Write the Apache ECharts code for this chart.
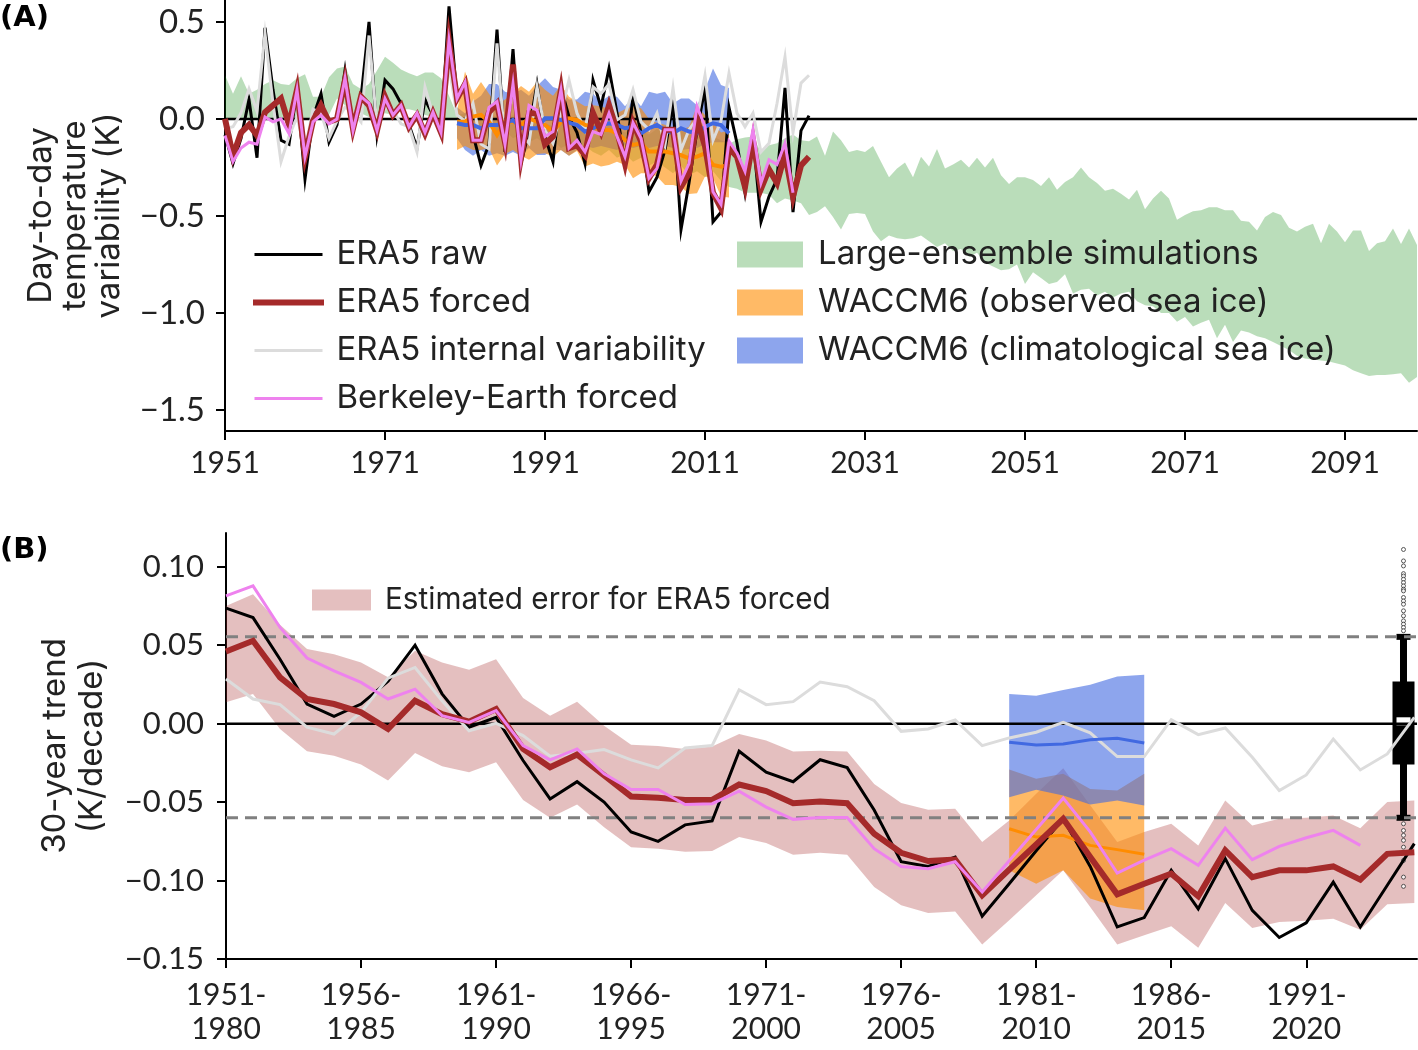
<!DOCTYPE html>
<html>
<head>
<meta charset="utf-8">
<title>Day-to-day temperature variability</title>
<style>
html, body { margin: 0; padding: 0; background: #fff; }
#chart { width: 1418px; height: 1050px; }
</style>
<script src="https://cdn.jsdelivr.net/npm/echarts@6/dist/echarts.min.js"></script>
</head>
<body>
<div id="chart"></div>
<script>
// panel A: yearly values, 1951 onward
var firstYear = 1951;
var eraRaw = [-0.08,-0.23,-0.1,0.1,-0.2,0.47,0.15,-0.11,-0.13,0.15,-0.31,0.01,0.13,-0.12,-0.03,0.25,-0.05,0.11,0.5,-0.08,0.2,0.155,0.08,-0.03,-0.15,0.1,0.02,-0.07,0.58,0.11,0.19,-0.08,-0.24,-0.13,0.46,-0.17,0.36,-0.23,-0.06,0.18,-0.09,-0.22,0.16,0.01,-0.07,-0.23,0.2,0.06,0.26,0.03,-0.23,0.115,-0.07,-0.375,-0.3,-0.16,0.08,-0.57,-0.33,-0.06,0.16,-0.53,-0.48,0.06,-0.125,-0.38,-0.09,-0.53,-0.4,-0.31,0.16,-0.48,-0.06,0.017];
var eraForced = [0,-0.19,-0.07,-0.03,-0.085,0.035,0.07,0.105,-0.03,0.15,-0.195,-0.01,0.07,-0.015,0,0.2,-0.05,0.115,0.07,-0.06,0.115,0.02,0.07,-0.04,0.02,-0.075,0.03,-0.07,0.4,0.105,0.18,-0.11,-0.11,0.035,0.08,-0.12,0.28,-0.2,0.03,0.03,-0.13,-0.09,0.15,-0.15,-0.135,-0.185,0.03,-0.065,0.07,-0.06,-0.23,-0.02,-0.115,-0.305,-0.235,-0.055,-0.055,-0.35,-0.28,0,-0.14,-0.38,-0.46,-0.15,-0.195,-0.35,-0.11,-0.36,-0.26,-0.33,-0.18,-0.4,-0.24,-0.195];
var eraInternal = [-0.05,-0.04,0.03,0.155,0.04,0.44,0.08,-0.22,-0.09,0.01,-0.16,0.05,0.03,-0.1,-0.01,0.06,0.035,-0.015,0.43,-0.04,0.06,0.045,-0.025,-0.04,-0.17,0.165,0.02,-0.05,0.27,0.02,-0.01,0.08,-0.13,-0.155,0.39,-0.13,0.165,-0.08,-0.125,0.165,-0.06,-0.125,0.03,0.2,0.03,-0.055,0.165,0.13,0.18,-0.005,0.02,0.15,-0.015,-0.055,0.03,-0.135,0.16,-0.16,-0.055,0,0.225,-0.11,-0.01,0.235,0.03,-0.04,0.03,-0.17,-0.125,0.08,0.32,-0.07,0.185,0.225];
var berkeleyForced = [-0.085,-0.22,-0.15,-0.12,-0.13,0.01,-0.015,0,-0.075,0.15,-0.195,-0.015,0.02,-0.025,0,0.21,-0.06,0.115,0.08,-0.06,0.105,0.02,0.07,-0.04,0.03,-0.07,0.035,-0.07,0.405,0.105,0.19,-0.11,-0.11,0.06,0.09,-0.13,0.18,-0.21,0.07,0.045,-0.09,-0.065,0.15,-0.15,-0.11,-0.17,-0.065,-0.08,0.03,-0.09,-0.195,-0.02,-0.1,-0.305,-0.255,-0.055,-0.055,-0.32,-0.23,0.065,-0.04,-0.375,-0.44,-0.115,-0.175,-0.27,-0.055,-0.33,-0.21,-0.235,-0.125,-0.38];
var ensembleUpper = [0.225,0.13,0.22,0.13,0.15,0.18,0.2,0.18,0.175,0.21,0.23,0.115,0.115,0.215,0.26,0.27,0.18,0.155,0.18,0.25,0.32,0.29,0.255,0.235,0.22,0.24,0.24,0.21,0.12,0.02,0.03,0.02,0,0.03,0.01,-0.02,0.02,-0.01,-0.03,0,-0.02,-0.04,-0.01,-0.03,-0.05,-0.02,-0.04,-0.06,-0.03,-0.05,-0.07,-0.04,-0.06,-0.08,-0.05,-0.07,-0.09,-0.06,-0.08,-0.1,-0.07,-0.09,-0.11,-0.13,-0.105,-0.095,-0.09,-0.17,-0.135,-0.125,-0.1,-0.08,-0.11,-0.115,-0.09,-0.19,-0.065,-0.11,-0.17,-0.16,-0.17,-0.14,-0.22,-0.3,-0.255,-0.225,-0.3,-0.195,-0.245,-0.155,-0.255,-0.235,-0.21,-0.25,-0.2,-0.25,-0.2,-0.29,-0.335,-0.3,-0.3,-0.315,-0.345,-0.3,-0.365,-0.325,-0.3,-0.25,-0.3,-0.33,-0.37,-0.36,-0.385,-0.415,-0.365,-0.465,-0.41,-0.37,-0.41,-0.52,-0.495,-0.475,-0.47,-0.455,-0.455,-0.47,-0.47,-0.525,-0.53,-0.575,-0.505,-0.48,-0.495,-0.56,-0.58,-0.555,-0.54,-0.64,-0.54,-0.58,-0.635,-0.575,-0.575,-0.68,-0.64,-0.63,-0.565,-0.645,-0.565,-0.65];
var ensembleLower = [0,0,0,0.005,0,0,0.005,0,0,0,0,0.005,0,0.02,0.105,0.07,0.04,0.03,0.01,0.02,0.03,0.02,0.05,0.05,0.04,0.02,0.01,0,0,0,-0.02,-0.01,-0.05,-0.03,-0.08,-0.06,-0.1,-0.08,-0.12,-0.1,-0.13,-0.11,-0.15,-0.13,-0.16,-0.14,-0.17,-0.19,-0.16,-0.2,-0.18,-0.22,-0.2,-0.24,-0.22,-0.25,-0.28,-0.24,-0.29,-0.27,-0.3,-0.27,-0.32,-0.35,-0.36,-0.38,-0.38,-0.38,-0.39,-0.435,-0.41,-0.42,-0.435,-0.495,-0.48,-0.45,-0.505,-0.57,-0.49,-0.485,-0.49,-0.58,-0.63,-0.6,-0.615,-0.62,-0.615,-0.6,-0.63,-0.66,-0.64,-0.68,-0.67,-0.71,-0.69,-0.74,-0.76,-0.78,-0.775,-0.75,-0.85,-0.79,-0.82,-0.85,-0.84,-0.8,-0.9,-0.88,-0.875,-0.91,-0.89,-0.92,-0.9,-0.89,-0.94,-0.96,-0.965,-1,-1,-1.045,-1.02,-1.07,-1.05,-1.035,-1.13,-1.06,-1.15,-1.09,-1.1,-1.12,-1.13,-1.15,-1.17,-1.19,-1.22,-1.235,-1.24,-1.245,-1.25,-1.26,-1.27,-1.295,-1.31,-1.325,-1.32,-1.32,-1.315,-1.31,-1.36,-1.33];

// WACCM6 runs cover 1980-2014
var waccmStart = 1980;
var obsMean = [-0.014,-0.014,0.012,0.021,-0.014,-0.082,-0.014,-0.014,-0.031,0.003,-0.014,-0.031,-0.065,-0.014,0.003,-0.005,-0.031,-0.04,-0.057,-0.057,-0.074,-0.108,-0.134,-0.125,-0.168,-0.168,-0.168,-0.177,-0.186,-0.203,-0.194,-0.177,-0.237,-0.246,-0.237];
var obsUpper = [0.04,0.245,0.13,0.19,0.13,0.07,0.1,0.13,0.17,0.14,0.19,0.15,0.12,0.175,0.115,0.09,0.065,0.07,0.065,0.05,0.03,0.05,0.065,0.055,0,-0.02,-0.03,-0.05,-0.06,-0.04,0.065,0.02,-0.02,-0.07,-0.06];
var obsLower = [-0.16,-0.14,-0.16,-0.16,-0.15,-0.24,-0.18,-0.16,-0.19,-0.21,-0.18,-0.177,-0.194,-0.16,-0.19,-0.165,-0.245,-0.23,-0.245,-0.237,-0.22,-0.237,-0.305,-0.28,-0.28,-0.297,-0.34,-0.34,-0.35,-0.387,-0.383,-0.297,-0.305,-0.4,-0.405];
var climMean = [-0.022,-0.031,-0.031,-0.048,-0.031,-0.031,-0.022,-0.005,-0.048,-0.048,-0.048,0.003,0.003,-0.005,-0.019,-0.031,-0.065,-0.048,-0.031,-0.022,-0.031,-0.048,-0.04,-0.074,-0.048,-0.031,-0.057,-0.074,-0.048,-0.065,-0.074,-0.04,-0.022,-0.031,-0.074];
var climUpper = [0.06,0.03,0.09,0.12,0.18,0.18,0.14,0.13,0.15,0.12,0.17,0.21,0.165,0.15,0.1,0.1,0.14,0.13,0.09,0.12,0.115,0.065,0.115,0.065,0.14,0.13,0.14,0.08,0.105,0.105,0.07,0.15,0.26,0.175,0.16];
var climLower = [-0.1,-0.16,-0.19,-0.16,-0.19,-0.177,-0.19,-0.17,-0.19,-0.15,-0.186,-0.186,-0.16,-0.16,-0.19,-0.16,-0.14,-0.15,-0.14,-0.15,-0.16,-0.13,-0.15,-0.14,-0.15,-0.14,-0.14,-0.15,-0.16,-0.155,-0.15,-0.13,-0.12,-0.12,-0.12];
var yearTicks = [1951,1971,1991,2011,2031,2051,2071,2091];
var tempTicks = [-1.5,-1,-0.5,0,0.5];

// panel B: 30-year windows, x is the window number (0 = 1951-1980)
var trendRaw = [0.0736,0.0676,0.041,0.0125,0.0047,0.0125,0.027,0.05,0.019,-0.0023,0.004,-0.0235,-0.048,-0.037,-0.05,-0.069,-0.075,-0.0645,-0.062,-0.0176,-0.031,-0.037,-0.023,-0.028,-0.055,-0.088,-0.091,-0.085,-0.1228,-0.102,-0.081,-0.0606,-0.091,-0.1296,-0.1236,-0.0935,-0.118,-0.086,-0.119,-0.1363,-0.127,-0.101,-0.1296,-0.103,-0.0765];
var trendForced = [0.046,0.0528,0.0295,0.0157,0.0125,0.0072,-0.0034,0.0146,0.006,0.0013,0.0093,-0.016,-0.0278,-0.0197,-0.033,-0.0464,-0.0473,-0.0486,-0.0486,-0.0388,-0.043,-0.0507,-0.0496,-0.0507,-0.0702,-0.0823,-0.0876,-0.0867,-0.1094,-0.093,-0.077,-0.0606,-0.085,-0.1088,-0.102,-0.0956,-0.11,-0.0808,-0.0978,-0.0935,-0.0935,-0.091,-0.0994,-0.083,-0.082];
var trendInternal = [0.0284,0.0157,0.0121,-0.0023,-0.0066,0.0072,0.029,0.0358,0.0146,-0.0045,0.0002,-0.0076,-0.0208,-0.0189,-0.0165,-0.0231,-0.0282,-0.0155,-0.014,0.0216,0.0121,0.014,0.0265,0.0235,0.0146,-0.0049,-0.0034,0.0023,-0.014,-0.0091,-0.0055,0.0008,-0.0059,-0.021,-0.021,0.0025,-0.007,-0.0028,-0.0214,-0.0426,-0.0327,-0.0098,-0.0295,-0.0193,0.004];
var trendBerkeley = [0.0814,0.0878,0.0613,0.0418,0.0337,0.0263,0.0157,0.022,0.0051,0.0008,0.0083,-0.014,-0.0231,-0.0161,-0.032,-0.042,-0.042,-0.0515,-0.051,-0.043,-0.0532,-0.061,-0.0598,-0.0598,-0.0797,-0.091,-0.0925,-0.088,-0.1073,-0.0874,-0.0675,-0.0475,-0.069,-0.0952,-0.087,-0.0797,-0.0903,-0.0666,-0.0867,-0.0782,-0.0727,-0.068,-0.0776];
var errorUpper = [0.075,0.0825,0.063,0.0475,0.0443,0.039,0.0295,0.0464,0.039,0.0343,0.041,0.0163,0.0051,0.014,-0.0013,-0.0134,-0.0142,-0.0161,-0.0146,-0.0066,-0.0108,-0.0178,-0.0172,-0.0178,-0.0384,-0.0505,-0.0549,-0.0543,-0.0755,-0.0617,-0.0447,-0.0284,-0.052,-0.0755,-0.069,-0.0638,-0.0776,-0.049,-0.0649,-0.0606,-0.06,-0.0585,-0.0666,-0.05,-0.049];
var errorLower = [0.0136,0.0189,-0.0034,-0.0176,-0.0204,-0.0261,-0.0363,-0.0187,-0.0271,-0.031,-0.0246,-0.0486,-0.06,-0.0515,-0.066,-0.0787,-0.0797,-0.0816,-0.0812,-0.0723,-0.0761,-0.0835,-0.0823,-0.0835,-0.1041,-0.1158,-0.1207,-0.1198,-0.1408,-0.1253,-0.1094,-0.0935,-0.1168,-0.1408,-0.1349,-0.1291,-0.1429,-0.1143,-0.1302,-0.1264,-0.1257,-0.1243,-0.1313,-0.1151,-0.1143];

var waccmFirstWindow = 29;
var trendObsMean = [-0.067,-0.0723,-0.0712,-0.0776,-0.0803,-0.0833];
var trendObsUpper = [-0.0293,-0.0352,-0.032,-0.0416,-0.0426,-0.032];
var trendObsLower = [-0.0935,-0.102,-0.0935,-0.1115,-0.1168,-0.119];
var trendClimMean = [-0.0119,-0.0136,-0.0129,-0.0102,-0.0093,-0.0123];
var trendClimUpper = [0.0189,0.0178,0.0214,0.0248,0.0301,0.0312];
var trendClimLower = [-0.0469,-0.0422,-0.0458,-0.0515,-0.049,-0.0522];

// box plot of the simulated trends: low whisker, q1, median, q3, high whisker
var boxX = 43.6;
var boxStats = [-0.06,-0.0261,0.0015,0.0269,0.0553];
var boxFliers = [0.111,0.1037,0.1005,0.0956,0.0941,0.092,0.0899,0.0878,0.0857,0.0846,0.0804,0.0782,0.0761,0.0719,0.0687,0.0655,0.0634,0.0613,0.0592,-0.0638,-0.0681,-0.0712,-0.0744,-0.0787,-0.0872,-0.0978,-0.1037];
var windowTicks = [0,5,10,15,20,25,30,35,40];
var trendTicks = [-0.15,-0.1,-0.05,0,0.05,0.1];

var FONT = 'Lato', TEXT_FONT = 'Inter';
var BLACK = '#000', BROWN = '#a52a2a', GREY = '#dcdcdc', PINK = '#ee82ee';
var BLUE = '#4169e1', ORANGE = '#ff8c00';
var GREEN_FILL = 'rgba(0,128,0,0.27)', ORANGE_FILL = 'rgba(255,140,0,0.6)';
var BLUE_FILL = 'rgba(65,105,225,0.6)', BROWN_FILL = 'rgba(165,42,42,0.3)';

function minusSign(s) {
    return s.replace('-', '\u2212');
}

function pairs(start, vals) {
    return vals.map(function(v, i) { return [start + i, v]; });
}

function line(name, idx, start, vals, color, width) {
    return {
        name: name, type: 'line', xAxisIndex: idx, yAxisIndex: idx,
        data: pairs(start, vals), symbol: 'none', silent: true,
        lineStyle: {color: color, width: width, join: 'miter'},
        itemStyle: {color: color}
    };
}

function hline(idx, x0, x1, y, color, width, dash) {
    return {
        type: 'line', xAxisIndex: idx, yAxisIndex: idx,
        data: [[x0, y], [x1, y]], symbol: 'none', silent: true,
        lineStyle: {color: color, width: width, type: dash || 'solid'}
    };
}

// filled band between two series
function band(name, idx, start, upper, lower, color) {
    return {
        name: name, type: 'custom', xAxisIndex: idx, yAxisIndex: idx,
        coordinateSystem: 'cartesian2d', silent: true, data: [[start, upper[0]]],
        itemStyle: {color: color},
        renderItem: function(params, api) {
            var pts = [];
            upper.forEach(function(v, i) { pts.push(api.coord([start + i, v])); });
            for (var i = lower.length - 1; i >= 0; i--) {
                pts.push(api.coord([start + i, lower[i]]));
            }
            return {type: 'polygon', shape: {points: pts}, style: {fill: color}};
        }
    };
}

function boxItem(params, api) {
    var c = function(i) { return api.coord([boxX, boxStats[i]]); };
    var x = c(0)[0];
    function rect(y0, y1, hw, fill) {
        return {type: 'rect', shape: {x: x - hw, y: y1, width: hw * 2, height: y0 - y1}, style: {fill: fill}};
    }
    return {
        type: 'group',
        children: [
            rect(c(0)[1], c(4)[1], 3.5, BLACK),
            rect(c(0)[1] + 3, c(0)[1] - 3, 7, BLACK),
            rect(c(4)[1] + 3, c(4)[1] - 3, 7, BLACK),
            rect(c(1)[1], c(3)[1], 11, BLACK),
            rect(c(2)[1] + 4, c(2)[1] - 4, 7, '#fff')
        ]
    };
}

function axisBase(ticks, formatter, size, margin) {
    return {
        axisLine: {onZero: false, lineStyle: {color: BLACK, width: 2}},
        axisTick: {length: 9, lineStyle: {color: BLACK, width: 2}, customValues: ticks},
        axisLabel: {fontFamily: FONT, fontSize: size, color: '#222', margin: margin, lineHeight: 34, customValues: ticks, formatter: formatter},
        splitLine: {show: false}
    };
}

var option = {
    animation: false,
    backgroundColor: '#fff',
    title: [
        {text: '(A)', left: 0, top: 4, padding: 0, textStyle: {fontFamily: 'DejaVu Sans', fontWeight: 'bold', fontSize: 29, color: BLACK}},
        {text: '(B)', left: 0, top: 536, padding: 0, textStyle: {fontFamily: 'DejaVu Sans', fontWeight: 'bold', fontSize: 29, color: BLACK}}
    ],
    grid: [
        {left: 225, right: 1, top: 0, height: 431, outerBoundsMode: 'none'},
        {left: 226, right: 1, top: 533, height: 426, outerBoundsMode: 'none'}
    ],
    xAxis: [
        Object.assign(axisBase(yearTicks, function(v) { return String(v); }, 30, 15), {
            type: 'value', gridIndex: 0, min: firstYear, max: 2100
        }),
        Object.assign(axisBase(windowTicks, function(v) { return (firstYear + v) + '-\n' + (firstYear + v + 29); }, 30, 19), {
            type: 'value', gridIndex: 1, min: 0, max: 44.1
        })
    ],
    yAxis: [
        Object.assign(axisBase(tempTicks, function(v) { return minusSign(v.toFixed(1)); }, 33, 20), {
            type: 'value', gridIndex: 0, min: -1.608, max: 0.613,
            name: 'Day-to-day\ntemperature\nvariability (K)',
            nameLocation: 'middle', nameRotate: 90, nameGap: 99,
            nameTextStyle: {fontFamily: TEXT_FONT, fontSize: 33, lineHeight: 34, color: '#222'}
        }),
        Object.assign(axisBase(trendTicks, function(v) { return minusSign(v.toFixed(2)); }, 31, 22), {
            type: 'value', gridIndex: 1, min: -0.15, max: 0.1215,
            name: '30-year trend\n(K/decade)',
            nameLocation: 'middle', nameRotate: 90, nameGap: 115,
            nameTextStyle: {fontFamily: TEXT_FONT, fontSize: 33, lineHeight: 37, color: '#222'}
        })
    ],
    legend: [
        {
            left: 248, top: 233, orient: 'vertical', itemWidth: 68, itemHeight: 3, itemGap: 15,
            textStyle: {fontFamily: TEXT_FONT, fontSize: 33, lineHeight: 32, color: '#222', padding: [0, 0, 0, 9]},
            selectedMode: false,
            data: [
                {name: 'ERA5 raw', icon: 'rect'},
                {name: 'ERA5 forced', icon: 'rect', itemStyle: {borderWidth: 3, borderColor: BROWN}},
                {name: 'ERA5 internal variability', icon: 'rect'},
                {name: 'Berkeley-Earth forced', icon: 'rect'}
            ]
        },
        {
            left: 732, top: 233, orient: 'vertical', itemWidth: 66, itemHeight: 26, itemGap: 15,
            textStyle: {fontFamily: TEXT_FONT, fontSize: 33, lineHeight: 32, color: '#222', padding: [0, 0, 0, 10]},
            selectedMode: false,
            data: [
                {name: 'Large-ensemble simulations', icon: 'rect'},
                {name: 'WACCM6 (observed sea ice)', icon: 'rect'},
                {name: 'WACCM6 (climatological sea ice)', icon: 'rect'}
            ]
        },
        {
            left: 307, top: 580, itemWidth: 59, itemHeight: 21,
            textStyle: {fontFamily: TEXT_FONT, fontSize: 29.7, lineHeight: 30, color: '#222', padding: [0, 0, 0, 9]},
            selectedMode: false,
            data: [{name: 'Estimated error for ERA5 forced', icon: 'rect'}]
        }
    ],
    series: [
        band('Large-ensemble simulations', 0, firstYear, ensembleUpper, ensembleLower, GREEN_FILL),
        hline(0, firstYear, 2100, 0, BLACK, 2.5),
        band('WACCM6 (climatological sea ice)', 0, waccmStart, climUpper, climLower, BLUE_FILL),
        band('WACCM6 (observed sea ice)', 0, waccmStart, obsUpper, obsLower, ORANGE_FILL),
        line('ERA5 raw', 0, firstYear, eraRaw, BLACK, 3),
        line('ERA5 internal variability', 0, firstYear, eraInternal, GREY, 3),
        line('obs mean', 0, waccmStart, obsMean, ORANGE, 4),
        line('clim mean', 0, waccmStart, climMean, BLUE, 4),
        line('ERA5 forced', 0, firstYear, eraForced, BROWN, 6),
        line('Berkeley-Earth forced', 0, firstYear, berkeleyForced, PINK, 3),

        band('Estimated error for ERA5 forced', 1, 0, errorUpper, errorLower, BROWN_FILL),
        hline(1, 0, 44.1, 0, BLACK, 2.5),
        band('trend obs', 1, waccmFirstWindow, trendObsUpper, trendObsLower, ORANGE_FILL),
        band('trend clim', 1, waccmFirstWindow, trendClimUpper, trendClimLower, BLUE_FILL),
        {
            type: 'scatter', xAxisIndex: 1, yAxisIndex: 1, silent: true, symbolSize: 4,
            data: boxFliers.map(function(v) { return [boxX, v]; }),
            itemStyle: {color: '#fff', borderColor: '#333', borderWidth: 1}
        },
        {
            type: 'custom', xAxisIndex: 1, yAxisIndex: 1, coordinateSystem: 'cartesian2d',
            silent: true, data: [[boxX, boxStats[2]]], renderItem: boxItem
        },
        hline(1, 0, 44.1, boxStats[4], '#808080', 3, [12, 7]),
        hline(1, 0, 44.1, boxStats[0], '#808080', 3, [12, 7]),
        line('trend raw', 1, 0, trendRaw, BLACK, 3),
        line('trend internal', 1, 0, trendInternal, GREY, 3),
        line('trend clim mean', 1, waccmFirstWindow, trendClimMean, BLUE, 3),
        line('trend obs mean', 1, waccmFirstWindow, trendObsMean, ORANGE, 3),
        line('trend forced', 1, 0, trendForced, BROWN, 6),
        line('trend berkeley', 1, 0, trendBerkeley, PINK, 3)
    ]
};

var myChart = echarts.init(document.getElementById('chart'));
myChart.setOption(option);
</script>
</body>
</html>
